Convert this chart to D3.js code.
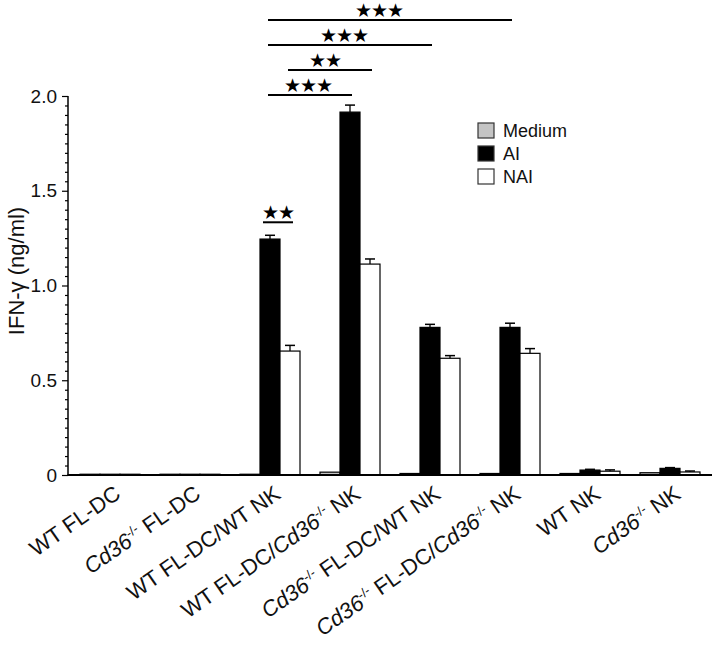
<!DOCTYPE html>
<html>
<head>
<meta charset="utf-8">
<script src="https://cdn.jsdelivr.net/npm/d3@7"></script>
<style>
  html, body { margin: 0; padding: 0; background: #fff; }
  svg { display: block; font-family: "Liberation Sans", Arial, Helvetica, sans-serif; }
</style>
</head>
<body>
<svg id="chart" width="717" height="646"></svg>
<script>
// ---- data ----
const categories = ["WT FL-DC", "Cd36-/- FL-DC", "WT FL-DC/WT NK", "WT FL-DC/Cd36-/- NK",
                    "Cd36-/- FL-DC/WT NK", "Cd36-/- FL-DC/Cd36-/- NK", "WT NK", "Cd36-/- NK"];
const seriesNames = ["Medium", "AI", "NAI"];
const mediumValues = [0.004, 0.004, 0.004, 0.015, 0.008, 0.008, 0.008, 0.012];
const aiValues     = [0.004, 0.004, 1.245, 1.915, 0.779, 0.779, 0.026, 0.035];
const naiValues    = [0.004, 0.004, 0.654, 1.113, 0.616, 0.642, 0.020, 0.016];
const mediumErrors = [0, 0, 0, 0, 0, 0, 0, 0];
const aiErrors     = [0, 0, 0.020, 0.037, 0.016, 0.022, 0.004, 0.004];
const naiErrors    = [0, 0, 0.030, 0.027, 0.014, 0.025, 0.007, 0.005];
const yTickValues  = [0, 0.5, 1.0, 1.5, 2.0];
const yTickLabels  = ["0", "0.5", "1.0", "1.5", "2.0"];
const yMinorStep   = 0.05;
// significance comparisons: [category index, series] -> [category index, series]
const comparisons = [
  { a: [2, "AI"], b: [2, "NAI"], label: "\u2605\u2605", local: true },
  { a: [2, "AI"], b: [3, "AI"],  label: "\u2605\u2605\u2605" },
  { a: [2, "NAI"], b: [3, "NAI"], label: "\u2605\u2605" },
  { a: [2, "AI"], b: [4, "AI"],  label: "\u2605\u2605\u2605" },
  { a: [2, "AI"], b: [5, "AI"],  label: "\u2605\u2605\u2605" }
];

const values = { Medium: mediumValues, AI: aiValues, NAI: naiValues };
const errors = { Medium: mediumErrors, AI: aiErrors, NAI: naiErrors };
const fills  = { Medium: "#c4c4c4", AI: "#000000", NAI: "#ffffff" };

// ---- layout ----
const svg = d3.select("#chart");
const y = d3.scaleLinear().domain([0, 2.0]).range([475, 96]);
const x0 = d3.scaleBand().domain(categories).range([70, 710]).paddingInner(0.25).paddingOuter(0.125);
const x1 = d3.scaleBand().domain(seriesNames).range([0, x0.bandwidth()]);

// bars
const g = svg.append("g");
categories.forEach((c, i) => {
  seriesNames.forEach(s => {
    const v = values[s][i];
    g.append("rect")
      .attr("x", x0(c) + x1(s))
      .attr("y", y(v))
      .attr("width", x1.bandwidth())
      .attr("height", y(0) - y(v))
      .attr("fill", fills[s])
      .attr("stroke", "#000")
      .attr("stroke-width", 1.2);
    const e = errors[s][i];
    if (e > 0) {
      const cx = x0(c) + x1(s) + x1.bandwidth() / 2;
      g.append("line").attr("x1", cx).attr("x2", cx).attr("y1", y(v)).attr("y2", y(v + e))
        .attr("stroke", "#000").attr("stroke-width", 1.3);
      g.append("line").attr("x1", cx - 5).attr("x2", cx + 5).attr("y1", y(v + e)).attr("y2", y(v + e))
        .attr("stroke", "#000").attr("stroke-width", 1.5);
    }
  });
});

// y axis
const minorTicks = d3.range(0, 2.0 + 1e-9, yMinorStep).filter(t => !yTickValues.some(v => Math.abs(v - t) < 1e-6));
const yAxisMinor = d3.axisLeft(y).tickValues(minorTicks).tickSize(3).tickFormat("");
const yAxisMajor = d3.axisLeft(y).tickValues(yTickValues).tickSize(6).tickPadding(5)
  .tickFormat((d, i) => yTickLabels[i]);
const ax = svg.append("g").attr("transform", "translate(68,0)");
ax.append("g").call(yAxisMinor).call(a => a.select(".domain").remove())
  .selectAll("line").attr("stroke-width", 1.2);
const axM = ax.append("g").call(yAxisMajor);
axM.select(".domain").remove();
axM.selectAll("line").attr("stroke-width", 1.2);
axM.selectAll("text").attr("font-size", 19).attr("fill", "#111")
  .attr("font-family", "'Liberation Sans', Arial, sans-serif");
ax.append("line").attr("x1", 0).attr("x2", 0).attr("y1", y(0) + 1).attr("y2", y(2.0))
  .attr("stroke", "#000").attr("stroke-width", 1.5);

// x axis line
svg.append("line").attr("x1", x0.range()[0] - 2.5).attr("x2", x0.range()[1] + 2)
  .attr("y1", y(0)).attr("y2", y(0)).attr("stroke", "#000").attr("stroke-width", 2);

// x labels (italic gene + superscript)
categories.forEach(c => {
  const cx = x0(c) + x0.bandwidth() / 2 + 12;
  const t = svg.append("text")
    .attr("transform", `translate(${cx},${y(0) + 22}) rotate(-35)`)
    .attr("text-anchor", "end")
    .attr("font-size", 22)
    .attr("fill", "#111");
  const parts = c.split(/(Cd36-\/-)/).filter(p => p.length);
  parts.forEach(p => {
    if (p === "Cd36-/-") {
      t.append("tspan").attr("font-style", "italic").text("Cd36");
      t.append("tspan").attr("font-size", 13).attr("dy", -8).text("-/-");
      t.append("tspan").attr("dy", 8).text("\u200B");
    } else {
      t.append("tspan").text(p);
    }
  });
});

// y title
svg.append("text")
  .attr("transform", "translate(24,271) rotate(-90)")
  .attr("text-anchor", "middle")
  .attr("font-size", 22)
  .attr("fill", "#111")
  .text("IFN-\u03B3 (ng/ml)");

// legend
const leg = svg.append("g").attr("transform", "translate(478,123)");
seriesNames.forEach((s, i) => {
  leg.append("rect").attr("x", 0).attr("y", i * 23).attr("width", 16).attr("height", 15)
    .attr("fill", fills[s]).attr("stroke", "#333").attr("stroke-width", 1.2);
  leg.append("text").attr("x", 25).attr("y", i * 23 + 14).attr("font-size", 18).attr("fill", "#111").text(s);
});

// significance brackets
const barCenter = ([ci, s]) => x0(categories[ci]) + x1(s) + x1.bandwidth() / 2;
const barTop = ([ci, s]) => y(values[s][ci] + errors[s][ci]);
// star label horizontal positions relative to bracket start
const starOffsets = [10, 40, 37, 76, 111];
let level = 0;
comparisons.forEach((cmp, i) => {
  let ly;
  if (cmp.local) {
    ly = Math.min(barTop(cmp.a), barTop(cmp.b)) - 13;
  } else {
    ly = y(2.0) - 1 - level * 25;
    level++;
  }
  const xa = barCenter(cmp.a) - (cmp.local ? 7 : 2), xb = barCenter(cmp.b) + (cmp.local ? 3 : 2);
  svg.append("line").attr("x1", xa).attr("x2", xb).attr("y1", ly).attr("y2", ly)
    .attr("stroke", "#000").attr("stroke-width", 2);
  svg.append("text")
    .attr("x", barCenter(cmp.a) - 2 + starOffsets[i])
    .attr("y", ly - 3)
    .attr("text-anchor", "middle")
    .attr("font-family", "'DejaVu Sans', sans-serif")
    .attr("font-size", 19)
    .attr("letter-spacing", -1)
    .attr("fill", "#000")
    .text(cmp.label);
});
</script>
</body>
</html>
